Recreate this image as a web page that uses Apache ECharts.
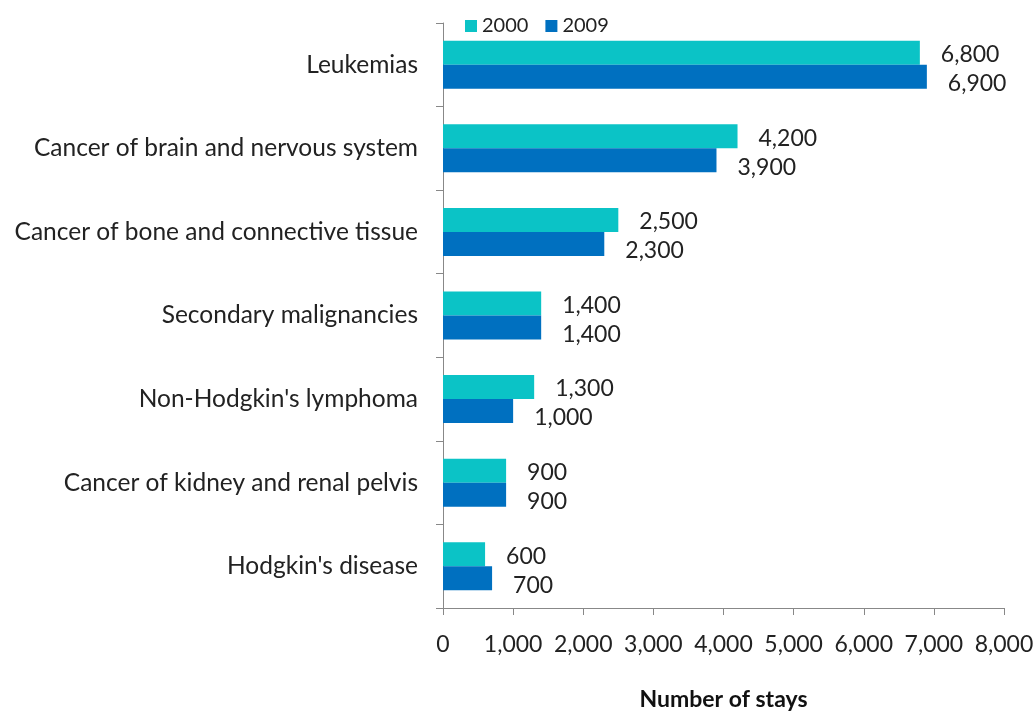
<!DOCTYPE html>
<html>
<head>
<meta charset="utf-8">
<script src="https://cdn.jsdelivr.net/npm/echarts@6/dist/echarts.min.js"></script>
<style>
  html, body { margin: 0; padding: 0; background: #fff; }
  #chart { width: 1036px; height: 711px; }
</style>
</head>
<body>
<div id="chart"></div>
<script>
// categories listed bottom to top (category axis on y starts at the bottom)
var categories = [
    "Hodgkin's disease",
    'Cancer of kidney and renal pelvis',
    "Non-Hodgkin's lymphoma",
    'Secondary malignancies',
    'Cancer of bone and connective tissue',
    'Cancer of brain and nervous system',
    'Leukemias'
];
var stays2000 = [600, 900, 1300, 1400, 2500, 4200, 6800];
var stays2009 = [700, 900, 1000, 1400, 2300, 3900, 6900];
var seriesNames = ['2000', '2009'];

function fmt(v) {
    return String(v).replace(/\B(?=(\d{3})+(?!\d))/g, ',');
}

var font = 'Lato, "Open Sans", sans-serif';

var myChart = echarts.init(document.getElementById('chart'));
myChart.setOption({
    animation: false,
    textStyle: { fontFamily: font },
    legend: {
        top: 11,
        left: 460,
        itemWidth: 12,
        itemHeight: 12,
        itemGap: 17,
        icon: 'rect',
        textStyle: { fontSize: 20, color: '#222', fontFamily: font },
        data: seriesNames
    },
    grid: { left: 443, right: 32, top: 23, bottom: 103, outerBoundsMode: 'none', containLabel: false },
    xAxis: {
        type: 'value',
        min: 0,
        max: 8000,
        interval: 1000,
        name: 'Number of stays',
        nameLocation: 'middle',
        nameGap: 80,
        nameTextStyle: { fontSize: 23, fontWeight: 'bold', color: '#111', fontFamily: font },
        axisLine: { show: true, lineStyle: { color: '#888' } },
        axisTick: { show: true, length: 7, lineStyle: { color: '#888' } },
        axisLabel: { fontSize: 23, color: '#222', margin: 25, formatter: fmt },
        splitLine: { show: false }
    },
    yAxis: {
        type: 'category',
        data: categories,
        axisLine: { lineStyle: { color: '#888' } },
        axisTick: { show: true, length: 7, lineStyle: { color: '#888' } },
        axisLabel: { fontSize: 24.5, color: '#222', margin: 25 }
    },
    series: [
        {
            name: seriesNames[0],
            type: 'bar',
            data: stays2000,
            barWidth: 24,
            barGap: '0%',
            itemStyle: { color: '#0BC3C6' },
            label: {
                show: true,
                position: 'right',
                distance: 21,
                offset: [0, 2],
                fontSize: 23,
                color: '#222',
                formatter: function (p) { return fmt(p.value); }
            }
        },
        {
            name: seriesNames[1],
            type: 'bar',
            data: stays2009,
            barWidth: 24,
            barGap: '0%',
            itemStyle: { color: '#0070C0' },
            label: {
                show: true,
                position: 'right',
                distance: 21,
                offset: [0, 7],
                fontSize: 23,
                color: '#222',
                formatter: function (p) { return fmt(p.value); }
            }
        }
    ]
});
</script>
</body>
</html>
